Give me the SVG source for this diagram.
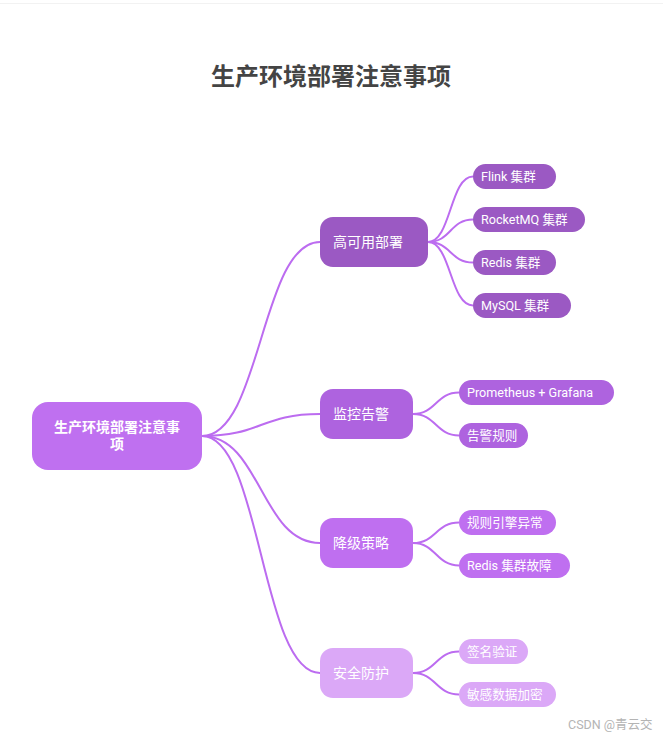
<svg xmlns="http://www.w3.org/2000/svg" width="663" height="739" viewBox="0 0 663 739">
<style>
text{font-family:"Roboto","Noto Sans CJK SC",sans-serif;fill:#fff}
.title{font-size:24px;font-weight:bold;fill:#444;font-family:"Noto Sans CJK SC",sans-serif}
.l0{font-size:14px;font-weight:bold}
.l1{font-size:14px}
.l2{font-size:12.6px}
.edge{fill:none;stroke:#bc6cf0;stroke-width:2}
.c0{fill:#bf70f0}
.c1{fill:#9b59c3}
.c2{fill:#ae63df}
.c3{fill:#bf6ff0}
.c4{fill:#dba8f7}
.wm{font-size:12.5px;fill:#b4b4b4}
</style>
<rect width="663" height="739" fill="#fff"/>
<line x1="0" y1="3.5" x2="663" y2="3.5" stroke="#f2f2f2" stroke-width="1"/>
<text class="title" x="331" y="85" text-anchor="middle">生产环境部署注意事项</text>
<g id="connectors">
<path class="edge" d="M202,436 C261,436 261,242 320,242"/>
<path class="edge" d="M202,436 C261,436 261,414 320,414"/>
<path class="edge" d="M202,436 C261,436 261,543 320,543"/>
<path class="edge" d="M202,436 C261,436 261,673 320,673"/>
<path class="edge" d="M428,242 C451,242 450,176.5 473,176.5"/>
<path class="edge" d="M428,242 C451,242 450,219.5 473,219.5"/>
<path class="edge" d="M428,242 C451,242 450,262.5 473,262.5"/>
<path class="edge" d="M428,242 C451,242 450,305.5 473,305.5"/>
<path class="edge" d="M413,414 C436,414 436,392.5 459,392.5"/>
<path class="edge" d="M413,414 C436,414 436,435.5 459,435.5"/>
<path class="edge" d="M413,543 C436,543 436,522.5 459,522.5"/>
<path class="edge" d="M413,543 C436,543 436,565.5 459,565.5"/>
<path class="edge" d="M413,673 C436,673 436,651.5 459,651.5"/>
<path class="edge" d="M413,673 C436,673 436,694.5 459,694.5"/>
</g>
<g id="root">
<rect class="c0" x="32" y="402" width="170" height="68" rx="16"/>
<text class="l0" x="117" y="432" text-anchor="middle">生产环境部署注意事</text>
<text class="l0" x="117" y="449" text-anchor="middle">项</text>
</g>
<g id="n-ha">
<rect class="c1" x="320" y="217" width="108" height="50" rx="13"/>
<text class="l1" x="333" y="247">高可用部署</text>
</g>
<g id="n-flink">
<rect class="c1" x="473" y="164" width="83" height="25" rx="12.5"/>
<text class="l2" x="481" y="181">Flink 集群</text>
</g>
<g id="n-rocketmq">
<rect class="c1" x="473" y="207" width="112" height="25" rx="12.5"/>
<text class="l2" x="481" y="224">RocketMQ 集群</text>
</g>
<g id="n-redis">
<rect class="c1" x="473" y="250" width="83" height="25" rx="12.5"/>
<text class="l2" x="481" y="267">Redis 集群</text>
</g>
<g id="n-mysql">
<rect class="c1" x="473" y="293" width="98" height="25" rx="12.5"/>
<text class="l2" x="481" y="310">MySQL 集群</text>
</g>
<g id="n-monitor">
<rect class="c2" x="320" y="389" width="93" height="50" rx="13"/>
<text class="l1" x="333" y="419">监控告警</text>
</g>
<g id="n-prom">
<rect class="c2" x="459" y="380" width="155" height="25" rx="12.5"/>
<text class="l2" x="467" y="397">Prometheus + Grafana</text>
</g>
<g id="n-alert">
<rect class="c2" x="459" y="423" width="69" height="25" rx="12.5"/>
<text class="l2" x="467" y="440">告警规则</text>
</g>
<g id="n-degrade">
<rect class="c3" x="320" y="518" width="93" height="50" rx="13"/>
<text class="l1" x="333" y="548">降级策略</text>
</g>
<g id="n-rule">
<rect class="c3" x="459" y="510" width="97" height="25" rx="12.5"/>
<text class="l2" x="467" y="527">规则引擎异常</text>
</g>
<g id="n-redisfail">
<rect class="c3" x="459" y="553" width="111" height="25" rx="12.5"/>
<text class="l2" x="467" y="570">Redis 集群故障</text>
</g>
<g id="n-security">
<rect class="c4" x="320" y="648" width="93" height="50" rx="13"/>
<text class="l1" x="333" y="678">安全防护</text>
</g>
<g id="n-sign">
<rect class="c4" x="459" y="639" width="69" height="25" rx="12.5"/>
<text class="l2" x="467" y="656">签名验证</text>
</g>
<g id="n-encrypt">
<rect class="c4" x="459" y="682" width="97" height="25" rx="12.5"/>
<text class="l2" x="467" y="699">敏感数据加密</text>
</g>
<text class="wm" x="568" y="729">CSDN @青云交</text>
</svg>
